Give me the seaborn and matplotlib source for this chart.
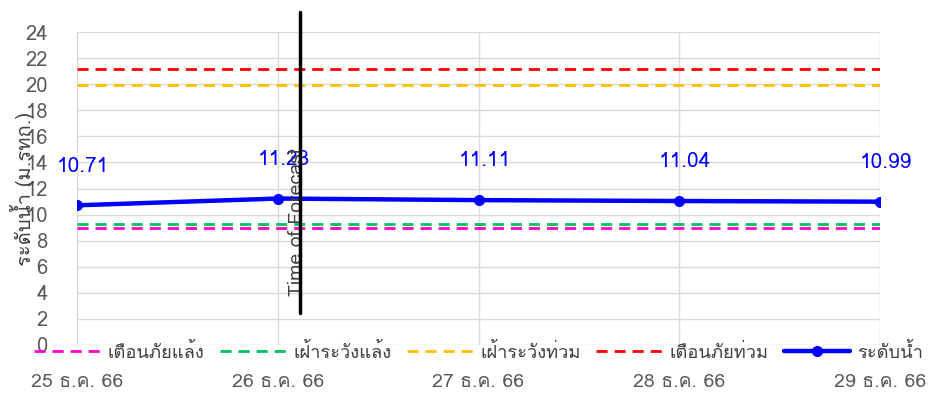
import matplotlib
matplotlib.use("Agg")
import matplotlib.pyplot as plt
import seaborn as sns
import pandas as pd
from matplotlib import font_manager
from matplotlib.ft2font import FT2Font

dates = ["25 ธ.ค. 66", "26 ธ.ค. 66", "27 ธ.ค. 66", "28 ธ.ค. 66", "29 ธ.ค. 66"]
water_level = [10.71, 11.23, 11.11, 11.04, 10.99]

threshold_names = ["เตือนภัยแล้ง", "เฝ้าระวังแล้ง", "เฝ้าระวังท่วม", "เตือนภัยท่วม"]
threshold_values = [8.95, 9.25, 19.9, 21.15]
threshold_colors = ["#ff00cc", "#00c060", "#ffc000", "#ff0000"]

forecast_pos = 1.11
yticks = list(range(0, 26, 2))


def find_thai_font():
    # collect installed fonts with Thai glyphs, prefer a looped sans like Tahoma
    found = []
    for f in font_manager.fontManager.ttflist:
        try:
            if 0x0E23 in FT2Font(f.fname).get_charmap():
                found.append(f.name)
        except Exception:
            pass
    for pref in ["Tahoma", "Loma", "Garuda", "Noto Sans Thai Looped", "Sarabun", "Noto Sans Thai"]:
        if pref in found:
            return pref
    return found[0] if found else None


sns.set_theme(style="white")
thai = find_thai_font()
plt.rcParams['font.family'] = ([thai] if thai else []) + ['DejaVu Sans']

df = pd.DataFrame({"pos": range(len(dates)), "level": water_level})

fig = plt.figure(figsize=(9.33, 3.96), dpi=100)
ax = fig.add_axes([77 / 933, 1 - 345 / 396, 803 / 933, 313 / 396])

for name, val, col in zip(threshold_names, threshold_values, threshold_colors):
    ax.axhline(val, color=col, lw=2, dashes=(4, 2.5), label=name, zorder=2)

sns.lineplot(data=df, x="pos", y="level", ax=ax, color="#0000ff", lw=3.2,
             marker="o", markersize=8, markeredgewidth=0, label="ระดับน้ำ", zorder=4)

for i, v in enumerate(water_level):
    ax.text(i + 0.03, v + 3.0, f"{v:.2f}", color="#0000ff", fontsize=15,
            ha="center", va="center", zorder=5)

ax.plot([forecast_pos, forecast_pos], [2.45, 25.5], color="black", lw=2.5,
        clip_on=False, zorder=6)
ax.text(forecast_pos - 0.015, 9.4, "Time of Forecast", rotation=90, color="#404040",
        fontsize=14, ha="center", va="center", zorder=5)

ax.set_xlim(0, len(dates) - 1)
ax.set_ylim(0, 24)
ax.set_xticks(range(len(dates)))
ax.set_xticklabels(dates)
ax.set_yticks(yticks)
ax.tick_params(axis="x", colors="#595959", labelsize=14, pad=20, length=0)
ax.tick_params(axis="y", colors="#595959", labelsize=14.5, pad=21, length=0)
ax.grid(True, color="#d9d9d9", lw=1)
for s in ax.spines.values():
    s.set_visible(False)
ax.set_xlabel("")
ax.set_ylabel("ระดับน้ำ (ม.รทก.)", fontsize=14.5, color="#404040")
ax.yaxis.set_label_coords(-0.052, 0.5)

handles, labels = ax.get_legend_handles_labels()
ax.get_legend().remove()
fig.legend(handles, labels, loc="center", bbox_to_anchor=(0.513, 1 - 352 / 396), ncol=5,
           frameon=False, fontsize=13.2, handlelength=3.6, handletextpad=0.4,
           columnspacing=0.85, labelcolor="#404040", borderaxespad=0)

fig.savefig("out.png", dpi=100)
